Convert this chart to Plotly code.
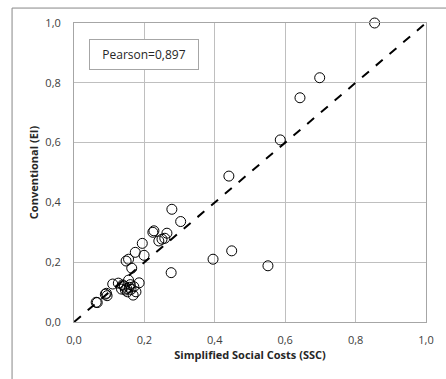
import plotly.graph_objects as go

ssc = [0.854, 0.698, 0.642, 0.586, 0.440, 0.395, 0.448, 0.551,
       0.278, 0.303, 0.227, 0.224, 0.264, 0.241, 0.250, 0.258,
       0.194, 0.174, 0.199, 0.148, 0.155, 0.164, 0.276,
       0.110, 0.155, 0.185, 0.143, 0.157, 0.146, 0.162, 0.176,
       0.168, 0.152, 0.092, 0.094, 0.066, 0.138, 0.126, 0.170,
       0.160, 0.150, 0.135, 0.089, 0.063]
ei = [1.000, 0.817, 0.750, 0.609, 0.488, 0.210, 0.238, 0.188,
      0.377, 0.336, 0.305, 0.300, 0.297, 0.271, 0.277, 0.280,
      0.263, 0.233, 0.223, 0.204, 0.210, 0.180, 0.165,
      0.127, 0.140, 0.131, 0.120, 0.116, 0.107, 0.109, 0.101,
      0.090, 0.101, 0.096, 0.088, 0.065, 0.124, 0.130, 0.118,
      0.125, 0.112, 0.110, 0.093, 0.066]

tick_vals = [0.0, 0.2, 0.4, 0.6, 0.8, 1.0]
tick_text = ["0,0", "0,2", "0,4", "0,6", "0,8", "1,0"]
pearson_label = "Pearson=0,897"

fig = go.Figure()
fig.add_trace(go.Scatter(x=[0, 1], y=[0, 1], mode="lines",
                         line=dict(color="black", width=2, dash="dash"),
                         hoverinfo="skip", showlegend=False))
fig.add_trace(go.Scatter(x=ssc, y=ei, mode="markers",
                         marker=dict(symbol="circle-open", size=10,
                                     color="black", line=dict(width=1)),
                         showlegend=False, cliponaxis=False))

axis_common = dict(range=[0, 1], tickvals=tick_vals, ticktext=tick_text,
                   showgrid=True, gridcolor="#bfbfbf", gridwidth=1,
                   showline=True, linecolor="#a6a6a6", linewidth=1, mirror=True,
                   zeroline=False, ticks="", fixedrange=True,
                   tickfont=dict(family="Open Sans", size=11, color="#404040"))

fig.update_layout(
    width=446, height=379,
    margin=dict(l=74, r=15, t=23, b=57),
    paper_bgcolor="white", plot_bgcolor="white",
    xaxis=dict(**axis_common, ticklabelstandoff=8,
               title=dict(text="<b>Simplified Social Costs (SSC)</b>",
                          font=dict(family="Open Sans", size=11, color="#262626"),
                          standoff=3)),
    yaxis=dict(**axis_common, ticklabelstandoff=10,
               title=dict(text="<b>Conventional (EI)</b>",
                          font=dict(family="Open Sans", size=11, color="#262626"),
                          standoff=4)),
    shapes=[dict(type="rect", xref="paper", yref="paper",
                 x0=-0.176, x1=1.3, y0=-0.4, y1=1.050,
                 line=dict(color="#888888", width=1), layer="below")],
    annotations=[dict(text=pearson_label, xref="paper", yref="paper",
                      x=0.0434, y=0.948, xanchor="left", yanchor="top",
                      showarrow=False, bgcolor="white",
                      bordercolor="#a6a6a6", borderwidth=1,
                      borderpad=6, width=96,
                      font=dict(family="Open Sans", size=12, color="#262626"))],
)

fig.write_html("out.html",
               config={"displayModeBar": False},
               post_script="document.body.style.margin='0';document.body.style.padding='0';")
